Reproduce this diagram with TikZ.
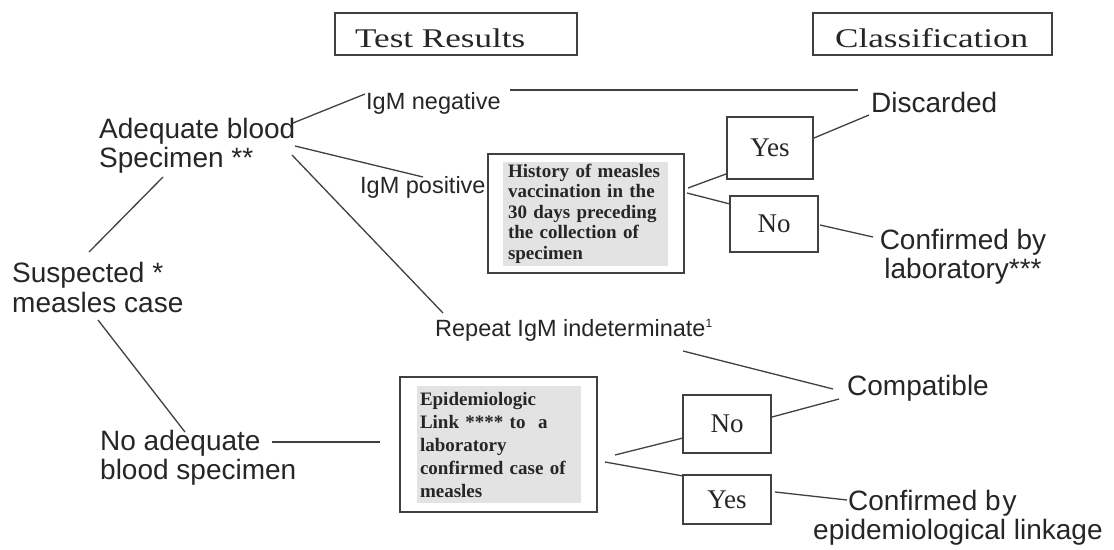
\documentclass[tikz,border=0pt]{standalone}
\usepackage{fontspec}
\setmainfont{Liberation Sans}
\newfontfamily\srf[FakeStretch=1.3]{Liberation Serif}
\newfontfamily\plainserif{Liberation Serif}
\begin{document}
\begin{tikzpicture}[x=1pt,y=-1pt,
  lab/.style={font=\fontsize{28}{29.5}\selectfont, text=black!85, inner sep=0pt, align=left},
  smalllab/.style={font=\fontsize{23.5}{26}\selectfont, text=black!85, inner sep=0pt},
  headbox/.style={draw=black!75, line width=1.5pt, inner sep=0pt},
  headtext/.style={font=\srf\fontsize{27}{29}\selectfont, text=black!85, inner sep=0pt},
  infobox/.style={draw=black!75, line width=1.5pt, font=\plainserif\bfseries\fontsize{19}{20.5}\selectfont, text=black!85, inner ysep=0pt, inner xsep=20pt, align=left},
  ansbox/.style={draw=black!75, line width=1.5pt, font=\plainserif\fontsize{27}{29}\selectfont, text=black!85, inner sep=0pt},
  graypatch/.style={fill=black!11, draw=none},
  conn/.style={draw=black!75, line width=1.3pt}
]
\useasboundingbox (0,0) rectangle (1114,549);
\fill[white] (0,0) rectangle (1114,549);

% gray patches inside the info boxes
\path[graypatch] (503,162) rectangle (668,266);
\path[graypatch] (417,386) rectangle (581,503);

% header boxes
\node[headbox, minimum width=242pt, minimum height=42pt] (tr) at (456,34) {};
\node[headtext, anchor=base west] (trt) at (355,47) {Test Results};
\node[headbox, minimum width=239pt, minimum height=42pt] (cl) at (932.5,34) {};
\node[headtext, anchor=base west] (clt) at (835,47) {Classification};

% left labels
\node[lab, anchor=west] (adeq) at (99,146) {Adequate blood\\Specimen **};
\node[lab, anchor=west] (susp) at (12,287.5) {Suspected *\\measles case};
\node[lab, anchor=west] (noad) at (100,458) {No adequate\\blood specimen};

% test results
\node[smalllab, anchor=west] (igmneg) at (366,103) {IgM negative};
\node[smalllab, anchor=west] (igmpos) at (360,187) {IgM positive};
\node[smalllab, anchor=west] (repeat) at (435,330) {Repeat IgM indeterminate\textsuperscript{\fontsize{12}{12}\selectfont 1}};

% info boxes
\node[infobox, text width=156pt, minimum height=119pt] (hist) at (586,213.5)
  {History of measles\\vaccination in the\\30 days preceding\\the collection of\\specimen};
\node[infobox, text width=157pt, minimum height=135pt, font=\plainserif\bfseries\fontsize{19}{23}\selectfont] (epi) at (498.5,444.5)
  {Epidemiologic\\Link **** to\ \ a\\laboratory\\confirmed case of\\measles};

% answer boxes
\node[ansbox, minimum width=86pt, minimum height=62pt] (yes1) at (770,148) {Yes};
\node[ansbox, minimum width=88pt, minimum height=56pt] (no1) at (774,224) {No};
\node[ansbox, minimum width=88pt, minimum height=58pt] (no2) at (727,424) {No};
\node[ansbox, minimum width=88pt, minimum height=49pt] (yes2) at (727,499.5) {Yes};

% classification labels
\node[lab, anchor=west] (disc) at (871,102) {Discarded};
\node[lab, align=center] (conflab) at (963,257) {Confirmed by\\laboratory***};
\node[lab, anchor=west] (compat) at (847,388) {Compatible};
\node[lab, anchor=west] (confepi) at (813,518) {\hspace*{35pt}Confirmed b\kern2pt y\\epidemiological linkage};

% connector end points
\coordinate (adeqA) at (293,123);
\coordinate (adeqB) at (295,146);
\coordinate (adeqC) at (292,155);
\coordinate (adeqD) at (163,177);
\coordinate (igmnegL) at (365,94);
\coordinate (igmnegR) at (510,90);
\coordinate (discL) at (858,90);
\coordinate (discB) at (869,115);
\coordinate (igmposL) at (423,177);
\coordinate (repeatT) at (443,313);
\coordinate (repeatR) at (683,351);
\coordinate (suspT) at (89,252);
\coordinate (suspB) at (98,320);
\coordinate (noadT) at (185,432);
\coordinate (noadR) at (272,442);
\coordinate (epiL) at (380,442);
\coordinate (histR1) at (688,188);
\coordinate (histR2) at (687,193);
\coordinate (yes1L) at (726,174);
\coordinate (yes1R) at (814,138);
\coordinate (no1L) at (730,204);
\coordinate (no1R) at (820,225);
\coordinate (conflabL) at (873,237);
\coordinate (compatA) at (833,389);
\coordinate (compatB) at (839,399);
\coordinate (no2L) at (683,438);
\coordinate (no2R) at (772,417);
\coordinate (epiR1) at (615,455);
\coordinate (epiR2) at (605,462);
\coordinate (yes2L) at (683,476);
\coordinate (yes2R) at (775,492);
\coordinate (confepiL) at (847,500);

% connectors
\draw[conn] (adeqA) -- (igmnegL);
\draw[conn] (igmnegR) -- (discL);
\draw[conn] (adeqB) -- (igmposL);
\draw[conn] (adeqC) -- (repeatT);
\draw[conn] (adeqD) -- (suspT);
\draw[conn] (suspB) -- (noadT);
\draw[conn] (noadR) -- (epiL);
\draw[conn] (histR1) -- (yes1L);
\draw[conn] (histR2) -- (no1L);
\draw[conn] (yes1R) -- (discB);
\draw[conn] (no1R) -- (conflabL);
\draw[conn] (repeatR) -- (compatA);
\draw[conn] (no2R) -- (compatB);
\draw[conn] (epiR1) -- (no2L);
\draw[conn] (epiR2) -- (yes2L);
\draw[conn] (yes2R) -- (confepiL);
\end{tikzpicture}
\end{document}
